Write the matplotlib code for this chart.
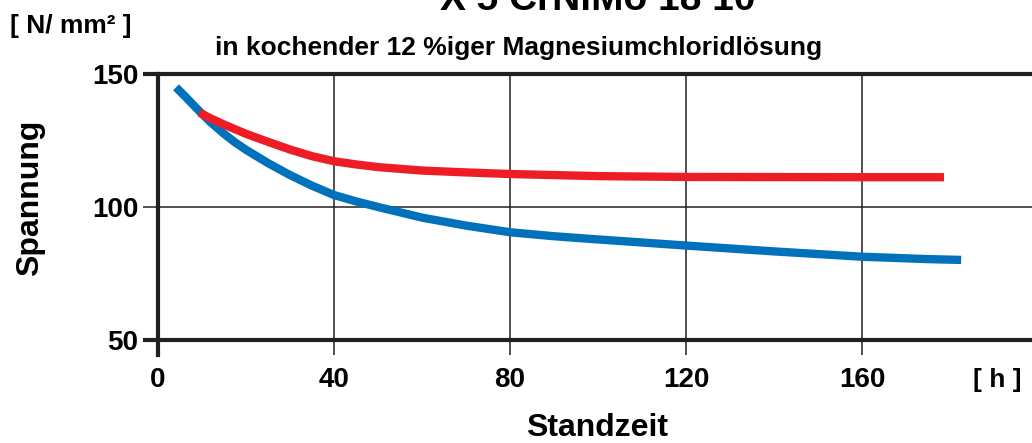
import matplotlib.pyplot as plt

plt.rcParams["font.family"] = ["Liberation Sans", "DejaVu Sans"]
plt.rcParams["font.weight"] = "bold"

# Standzeit [h] und Spannung [N/mm²]
blau_h = [4.1, 5, 6.5, 8, 9.6, 12, 15, 17.5, 20, 25, 30, 35, 40, 45, 50, 60, 70, 80, 90, 100,
          120, 140, 160, 175, 182.5]
blau_s = [145, 143.5, 141, 138.4, 135.7, 131.8, 127.5, 124.3, 121.5, 116.5, 112, 108, 104.5,
          102.1, 100, 96, 93, 90.5, 89, 87.8, 85.5, 83.3, 81.3, 80.4, 80.1]

rot_h = [9.4, 12, 15, 20, 25, 30, 35, 40, 45, 50, 60, 70, 80, 100, 120, 160, 178.6]
rot_s = [135.5, 133.3, 131, 127.5, 124.5, 121.6, 119.1, 117.2, 116, 115, 113.7, 113, 112.4,
         111.6, 111.3, 111.2, 111.2]

x_ticks = [0, 40, 80, 120, 160]
y_ticks = [50, 100, 150]

W, H = 1032, 443
fig = plt.figure(figsize=(W / 100, H / 100), dpi=100)
ax = fig.add_axes([158 / W, (H - 354.6) / H, 1 - 158 / W, (354.6 - 74) / H])

ax.set_xlim(0, 198.6)
ax.set_ylim(44.5, 150)

for s in ["right", "bottom"]:
    ax.spines[s].set_visible(False)
ax.spines["left"].set_linewidth(3)
ax.spines["top"].set_linewidth(3)
ax.spines["left"].set_color("#231f20")
ax.spines["top"].set_color("#231f20")

for xv in x_ticks[1:]:
    ax.axvline(xv, color="#231f20", lw=1.1, zorder=1)
ax.axhline(100, color="#231f20", lw=1.1, zorder=1)
ax.axhline(50, color="#231f20", lw=3, zorder=1)

ax.plot(blau_h, blau_s, color="#0071bb", lw=6, solid_capstyle="butt", solid_joinstyle="round", zorder=3)
ax.plot(rot_h, rot_s, color="#ee1c25", lw=6, solid_capstyle="butt", solid_joinstyle="round", zorder=4)

ax.set_xticks([])
ax.set_yticks(y_ticks)
ax.set_yticklabels([str(v) for v in y_ticks], fontsize=20, fontweight="bold")
ax.tick_params(axis="y", length=11, color="#231f20", pad=3)
for t, w in zip(ax.yaxis.get_major_ticks(), [3, 1.1, 3]):
    t.tick1line.set_markeredgewidth(w)

y_lab = -(380 - 354.6) / (354.6 - 74)
for xv in x_ticks:
    ax.text(xv, y_lab, str(xv), transform=ax.get_xaxis_transform(), ha="center", va="center",
            fontsize=20, fontweight="bold")

fig.text(997 / W, 1 - 380 / H, "[ h ]", ha="center", va="center", fontsize=19, fontweight="bold")
fig.text(597 / W, 1 - 428 / H, "Standzeit", ha="center", va="center", fontsize=23, fontweight="bold")
fig.text(30 / W, 1 - 198 / H, "Spannung", ha="center", va="center", rotation=90, fontsize=23, fontweight="bold")
fig.text(10 / W, 1 - 26 / H, "[ N/ mm² ]", ha="left", va="center", fontsize=19, fontweight="bold")
fig.text(215 / W, 1 - 48 / H, "in kochender 12 %iger Magnesiumchloridlösung", ha="left", va="center",
         fontsize=19, fontweight="bold")
# Titel ist im Original oben abgeschnitten
fig.text(598 / W, 1 - 10 / H, "X 5 CrNiMo 18 10", ha="center", va="baseline", fontsize=28, fontweight="bold")

fig.savefig("out.png", dpi=100)
